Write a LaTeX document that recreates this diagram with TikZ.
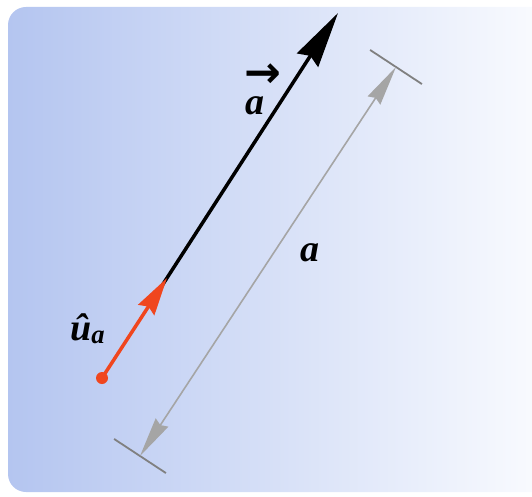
\documentclass[tikz,border=0pt]{standalone}
\usepackage{fontspec}
\setmainfont{Liberation Serif}
\newfontfamily\arrowfont{DejaVu Sans}
\usetikzlibrary{arrows.meta,calc}
\definecolor{bgleft}{RGB}{180,197,240}
\definecolor{bgright}{RGB}{252,253,255}
\definecolor{redvec}{RGB}{240,70,30}
\definecolor{dimgray}{RGB}{165,165,165}
\newcommand{\vecarrow}[1]{\makebox[0pt][l]{\hspace{-1pt}\raisebox{27pt}{\arrowfont\bfseries\fontsize{44}{44}\selectfont →}}#1}
\begin{document}
\begin{tikzpicture}[x=1pt,y=-1pt,
  lbl/.style={font=\bfseries\itshape\fontsize{38}{38}\selectfont, inner sep=0pt},
  vecline/.style={line width=3.5pt},
  dimline/.style={draw=dimgray, line width=1.6pt},
  tickline/.style={draw=gray, line width=1.8pt}]
\useasboundingbox (0,0) rectangle (532,497);
\shade[left color=bgleft, right color=bgright, rounded corners=18pt] (8,7) rectangle (560,492);
% coordinates
\coordinate (O) at (102,378);
\coordinate (U) at (167,278);
\coordinate (T) at (338,13);
\coordinate (G1) at (140,456);
\coordinate (G2) at (396,67);
\coordinate (B1) at ($(G1)!31pt!90:(G2)$);
\coordinate (B2) at ($(G1)!31pt!-90:(G2)$);
\coordinate (C1) at ($(G2)!31pt!90:(G1)$);
\coordinate (C2) at ($(G2)!31pt!-90:(G1)$);
% dimension
\draw[tickline] (B1) -- (B2);
\draw[tickline] (C1) -- (C2);
\draw[dimline, {Stealth[length=40pt,width=15pt,inset=3pt]}-{Stealth[length=40pt,width=15pt,inset=3pt]}] (G1) -- (G2);
% vector a
\draw[vecline, black, -{Stealth[length=56pt,width=25pt,inset=5pt]}] ($(O)!0.9!(U)$) -- (T);
% unit vector
\draw[vecline, redvec, -{Stealth[length=38pt,width=19pt,inset=4pt]}] (O) -- (U);
\fill[redvec] (O) circle (6pt);
% labels
\node[lbl, anchor=base west] (la) at (245,115) {\vecarrow{a}};
\node[lbl] (ln) at (310,253) {a};
\node[lbl, anchor=base west] (lu) at (70,340) {û\textsubscript{a}};
\end{tikzpicture}
\end{document}
